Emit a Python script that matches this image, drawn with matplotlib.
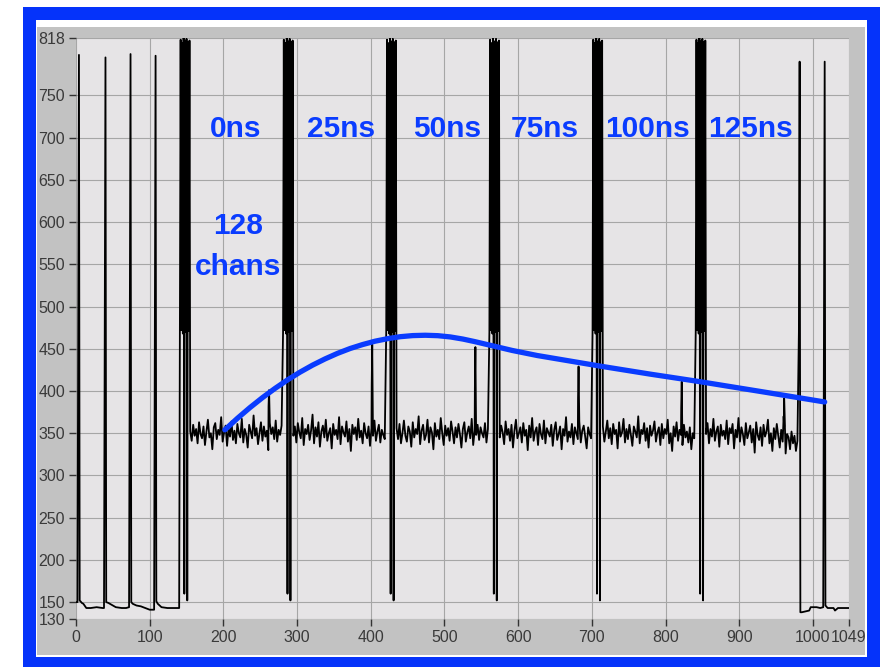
import matplotlib
matplotlib.use('Agg')
import matplotlib.pyplot as plt
from matplotlib.patches import Rectangle

# header bits before the first frame (sample, adc counts)
head_x = [0, 2, 3, 4, 5, 8, 10, 14, 20, 28, 36, 38, 39, 40, 41, 44, 50, 54, 62, 68, 72,
          73, 74, 75, 77, 82, 88, 94, 100, 106, 107, 108, 109, 111, 116, 124, 132, 140]
head_y = [150, 150, 470, 798, 152, 149, 148, 143, 143, 144, 143, 143, 470, 795, 150, 149, 146, 144, 143, 143, 144,
          470, 799, 150, 148, 146, 145, 143, 141, 141, 470, 797, 151, 148, 144, 143, 143, 143]

# one readout frame per 140 samples: header cluster, then 128 channels of pedestal noise
frame_start = [141, 281, 421, 561, 701, 841]
cluster_adc = [470, 816, 472, 812, 468, 818, 160, 814, 470, 817, 152, 813, 471, 815]

noise_f0 = [352, 341, 360, 347, 355, 338, 363, 349, 344, 358, 336, 352, 366, 345, 350, 331, 357, 362, 343, 354, 348,
            369, 340, 351, 359, 335, 356, 346, 364, 342, 353, 338, 361, 350, 345, 367, 339, 355, 348, 333, 360, 352,
            344, 371, 347, 356, 337, 350, 363, 341, 358, 346, 353, 330, 362, 349, 357, 343, 365, 340, 354, 348, 359]
noise_f1 = [347, 358, 339, 362, 351, 344, 368, 336, 355, 349, 360, 342, 353, 372, 338, 357, 346, 363, 334, 352, 359,
            345, 366, 341, 350, 356, 332, 361, 348, 354, 343, 369, 337, 358, 351, 346, 364, 340, 355, 329, 360, 349,
            357, 342, 367, 345, 353, 338, 362, 350, 344, 358, 335, 356, 347, 365, 341, 352, 360, 339, 354, 348, 343]
noise_f2 = [356, 343, 361, 338, 350, 365, 347, 340, 358, 352, 334, 363, 345, 355, 349, 370, 337, 353, 360, 342, 348,
            366, 339, 357, 351, 331, 362, 346, 354, 343, 368, 350, 336, 359, 347, 356, 341, 364, 352, 338, 357, 345,
            361, 349, 333, 355, 363, 340, 351, 358, 344, 367, 336, 353, 348, 360, 342, 357, 350, 345, 362, 339, 355]
noise_f3 = [345, 359, 351, 337, 364, 348, 355, 341, 360, 333, 353, 366, 344, 350, 357, 339, 362, 347, 354, 330, 359,
            345, 368, 341, 352, 357, 336, 361, 349, 343, 365, 338, 356, 351, 346, 360, 335, 354, 363, 342, 349, 358,
            331, 355, 347, 369, 340, 352, 345, 361, 337, 357, 350, 343, 364, 339, 353, 359, 346, 332, 357, 349, 344]
noise_f4 = [358, 340, 352, 365, 344, 356, 337, 361, 349, 354, 332, 363, 346, 351, 367, 339, 355, 343, 360, 348, 335,
            358, 352, 345, 370, 338, 354, 349, 362, 341, 356, 333, 359, 347, 353, 364, 340, 351, 357, 336, 361, 344,
            355, 349, 366, 338, 350, 329, 358, 346, 363, 341, 354, 348, 336, 360, 345, 352, 339, 357, 331, 350, 344]
noise_f5 = [349, 362, 338, 355, 346, 367, 341, 352, 358, 334, 360, 347, 353, 343, 365, 337, 356, 350, 361, 332, 354,
            345, 368, 340, 357, 349, 336, 362, 344, 351, 359, 339, 355, 327, 363, 348, 342, 357, 335, 360, 346, 352,
            366, 338, 350, 329, 356, 343, 361, 347, 333, 354, 340, 358, 326, 349, 345, 331, 352, 338, 347, 329, 341]
noise = [noise_f0, noise_f1, noise_f2, noise_f3, noise_f4, noise_f5]

# injected test pulse seen in one channel of each frame
pulse_x = [261, 401, 541, 681, 821, 960]
pulse_notch = [382, 407, 404, 392, 380, 370]
pulse_peak = [401, 455, 452, 429, 411, 391]

# trailer after the last frame
tail_x = [981, 982, 983, 985, 990, 995, 997, 1005, 1010, 1014, 1015, 1016, 1017, 1020, 1028, 1030, 1034, 1040, 1048]
tail_y = [470, 790, 138, 138, 139, 140, 144, 144, 143, 144, 470, 790, 146, 143, 143, 140, 143, 143, 143]

# pulse shape drawn through the test pulse peaks
shape_x = [202, 219, 236, 253, 270, 287, 304, 321, 338, 355, 372, 389, 406, 423, 440, 457, 474,
           491, 508, 525, 541, 558, 575, 592, 609, 626, 643, 660, 711, 779, 847, 932, 1016]
shape_y = [354, 367.6, 380.3, 392.1, 403, 413.1, 422.3, 430.6, 438, 444.6, 450.3, 455, 459, 462, 464.3, 465.6, 466,
           465.5, 464, 461.5, 458.5, 455, 451.5, 448, 445, 442, 439.5, 437, 429.5, 420, 411, 399, 387]

delay_labels = ['0ns', '25ns', '50ns', '75ns', '100ns', '125ns']
label_x = [217, 360, 504, 636, 775, 916]

y_ticks = [130, 150, 200, 250, 300, 350, 400, 450, 500, 550, 600, 650, 700, 750, 818]
x_ticks = [0, 100, 200, 300, 400, 500, 600, 700, 800, 900, 1000, 1049]

# build the sample trace
sig_x = list(head_x)
sig_y = list(head_y)
for k, c in enumerate(frame_start):
    sig_x += [c + i for i in range(len(cluster_adc))]
    sig_y += cluster_adc
    pts = [(c + len(cluster_adc) + 2 * i, v) for i, v in enumerate(noise[k])]
    pts += [(pulse_x[k] + 0.3, pulse_notch[k]), (pulse_x[k] + 1, pulse_peak[k])]
    pts.sort(key=lambda p: p[0])
    sig_x += [p[0] for p in pts]
    sig_y += [p[1] for p in pts]
sig_x += tail_x
sig_y += tail_y

blue = '#0a3cff'

fig = plt.figure(figsize=(8.91, 6.67), dpi=100)
fig.patch.set_facecolor('white')
W, H = 891.0, 667.0
# blue frame, white gap, grey panel
fig.add_artist(Rectangle((23 / W, 0), 857 / W, 1 - 7 / H, transform=fig.transFigure,
                         facecolor='#0533fa', edgecolor='none', zorder=-3))
fig.add_artist(Rectangle((36 / W, 1 - 657 / H), 831 / W, 637 / H, transform=fig.transFigure,
                         facecolor='white', edgecolor='none', zorder=-2))
fig.add_artist(Rectangle((37 / W, 1 - 655 / H), 828 / W, 628 / H, transform=fig.transFigure,
                         facecolor='#c2c2c2', edgecolor='none', zorder=-1))

ax = fig.add_axes([76 / W, 1 - 619 / H, 773 / W, 581 / H])
ax.set_facecolor('#e6e4e6')

ax.plot(sig_x, sig_y, color='black', lw=1.3, zorder=3)
ax.plot(shape_x, shape_y, color=blue, lw=3.8, solid_capstyle='round', solid_joinstyle='round', zorder=4)

for lab, lx in zip(delay_labels, label_x):
    ax.text(lx, 710, lab, color=blue, fontsize=21.5, fontweight='bold', family='Liberation Sans',
            ha='center', va='center', zorder=5)
ax.text(220, 595, '128', color=blue, fontsize=21.5, fontweight='bold', family='Liberation Sans',
        ha='center', va='center', zorder=5)
ax.text(220, 547, 'chans', color=blue, fontsize=21.5, fontweight='bold', family='Liberation Sans',
        ha='center', va='center', zorder=5)

ax.set_xlim(0, 1049)
ax.set_ylim(130, 818)
ax.set_xticks(x_ticks)
ax.set_yticks(y_ticks)

# сетка
ax.grid(True, color='#a6a6a6', lw=0.8, zorder=1)
ax.set_axisbelow(True)
for s in ax.spines.values():
    s.set_visible(False)

ax.tick_params(length=5, width=1, color='#333333', labelcolor='#3a3a3a', labelsize=11.5, pad=3)
for lab in ax.get_xticklabels() + ax.get_yticklabels():
    lab.set_family(['Liberation Sans Narrow', 'Liberation Sans'])

fig.savefig('out.png', dpi=100, facecolor='white')
